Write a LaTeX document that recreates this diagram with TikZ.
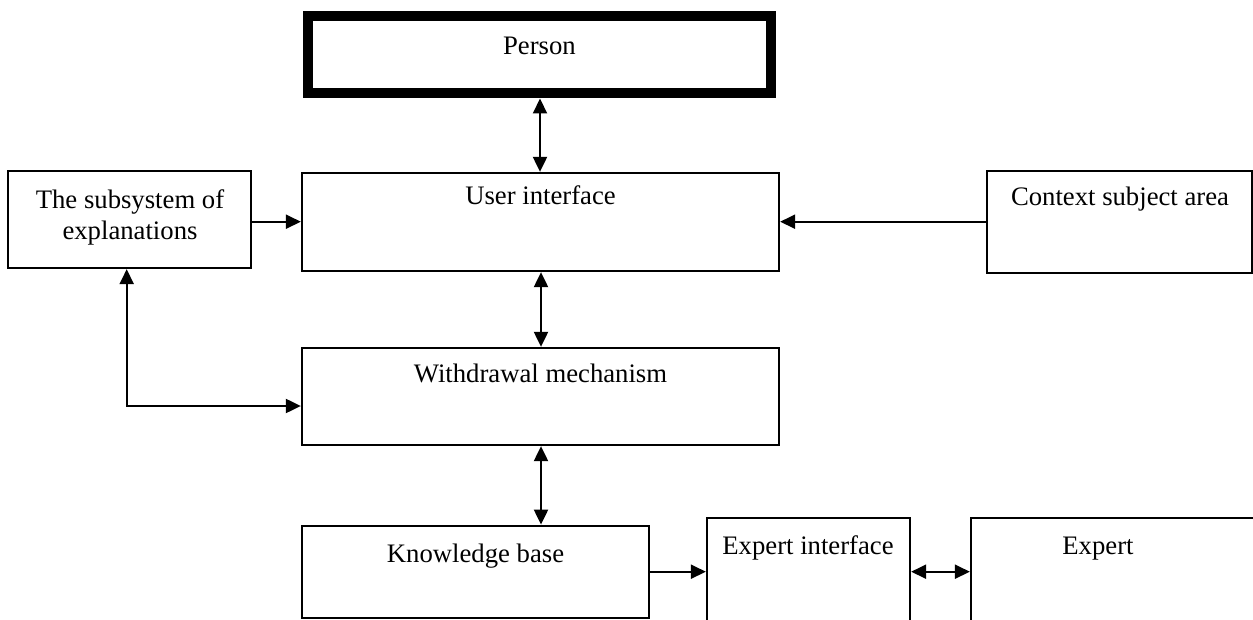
\documentclass[tikz,border=0pt]{standalone}
\usepackage{fontspec}
\setmainfont{Liberation Serif}
\usetikzlibrary{arrows.meta}
\begin{document}
\begin{tikzpicture}[x=1pt,y=-1pt,
  box/.style={draw, line width=2.3pt, inner sep=0pt},
  lbl/.style={anchor=base, inner sep=0pt, font=\fontsize{26.7}{31}\selectfont, align=center},
  link/.style={line width=2.1pt},
  >={Triangle[length=15pt,width=14pt]}]
\useasboundingbox (0,0) rectangle (1253,620);
\clip (0,0) rectangle (1253,620);
% boxes
\node[box, line width=10pt, minimum width=463.8pt, minimum height=77.8pt] (person) at (539.4,54.6) {};
\node[box, minimum width=477pt, minimum height=98pt] (ui) at (540.5,222) {};
\node[box, minimum width=243pt, minimum height=97pt] (expl) at (129.5,219.5) {};
\node[box, minimum width=265pt, minimum height=102pt] (ctx) at (1119.5,222) {};
\node[box, minimum width=477pt, minimum height=97pt] (wd) at (540.5,396.5) {};
\node[box, minimum width=347pt, minimum height=92.5pt] (kb) at (475.5,572) {};
\node[box, minimum width=203pt, minimum height=200pt] (ei) at (808.5,618) {};
\node[box, minimum width=400pt, minimum height=200pt] (ex) at (1171,618) {};
% labels
\node[lbl] (tperson) at (539.4,55) {Person};
\node[lbl] (tui) at (540.5,205) {User interface};
\node[lbl] (texpl) at (130,240) {The subsystem of\\explanations};
\node[lbl] (tctx) at (1120,205.7) {Context subject area};
\node[lbl] (twd) at (540.5,382) {Withdrawal mechanism};
\node[lbl] (tkb) at (475.5,562.3) {Knowledge base};
\node[lbl] (tei) at (808,554) {Expert interface};
\node[lbl] (tex) at (1098,554) {Expert};
% connectors
\coordinate (c1) at (540,0);
\coordinate (c2) at (541,0);
\coordinate (c3) at (126.7,406);
\coordinate (r1) at (0,221.7);
\coordinate (r2) at (0,571.7);
\draw[link,<->] (person.south -| c1) -- (ui.north -| c1);
\draw[link,<->] (ui.south -| c2) -- (wd.north -| c2);
\draw[link,<->] (wd.south -| c2) -- (kb.north -| c2);
\draw[link,->] (expl.east |- r1) -- (ui.west |- r1);
\draw[link,->] (ctx.west |- r1) -- (ui.east |- r1);
\draw[link,<->] (expl.south -| c3) |- (wd.west |- c3);
\draw[link,->] (kb.east |- r2) -- (ei.west |- r2);
\draw[link,<->] (ei.east |- r2) -- (ex.west |- r2);
\end{tikzpicture}
\end{document}
